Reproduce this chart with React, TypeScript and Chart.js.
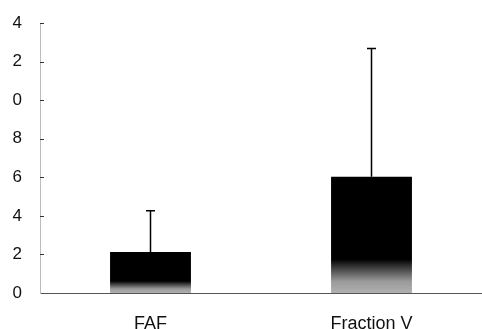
import React, { useEffect, useRef } from "react";
import { Chart, registerables } from "chart.js";

Chart.register(...registerables);

const categories = ["FAF", "Fraction V"];
const meanValues = [2.12, 6.03];
const errorTops = [4.26, 12.68];
const yTickLabels = ["0", "2", "4", "6", "8", "0", "2", "4"];

const FONT = "'Liberation Sans', Arial, sans-serif";

const errorBarPlugin = {
  id: "errorBars",
  afterDatasetsDraw(chart: any) {
    const { ctx, scales } = chart;
    const meta = chart.getDatasetMeta(0);
    ctx.save();
    ctx.strokeStyle = "#000";
    ctx.lineWidth = 1.5;
    meta.data.forEach((bar: any, i: number) => {
      const yTop = scales.y.getPixelForValue(errorTops[i]);
      ctx.beginPath();
      ctx.moveTo(bar.x, bar.y);
      ctx.lineTo(bar.x, yTop);
      ctx.moveTo(bar.x - 4.5, yTop);
      ctx.lineTo(bar.x + 4.5, yTop);
      ctx.stroke();
    });
    ctx.restore();
  },
};

const yTickPlugin = {
  id: "yTicksRight",
  afterDraw(chart: any) {
    const { ctx, scales } = chart;
    const y = scales.y;
    const x0 = chart.chartArea.left;
    ctx.save();
    ctx.strokeStyle = "#333";
    ctx.lineWidth = 1;
    y.ticks.forEach((t: any) => {
      if (t.value === 0) return;
      const py = Math.round(y.getPixelForValue(t.value)) + 0.5;
      ctx.beginPath();
      ctx.moveTo(x0, py);
      ctx.lineTo(x0 + 4, py);
      ctx.stroke();
    });
    ctx.restore();
  },
};

export default function App() {
  const ref = useRef<HTMLCanvasElement | null>(null);
  useEffect(() => {
    if (!ref.current) return;
    const chart = new Chart(ref.current, {
      type: "bar",
      data: {
        labels: categories,
        datasets: [
          {
            data: meanValues,
            backgroundColor: (c: any) => {
              const ch = c.chart;
              const ys = ch.scales && ch.scales.y;
              if (!ys || c.parsed === undefined) return "#000";
              const yb = ys.getPixelForValue(0);
              const yt = ys.getPixelForValue(c.parsed.y);
              if (!isFinite(yb) || !isFinite(yt) || yb === yt) return "#000";
              const g = ch.ctx.createLinearGradient(0, yb, 0, yt);
              g.addColorStop(0, "#b0b0b0");
              g.addColorStop(0.1, "#9a9a9a");
              g.addColorStop(0.23, "#333");
              g.addColorStop(0.29, "#000");
              g.addColorStop(1, "#000");
              return g;
            },
            borderWidth: 0,
            barPercentage: 0.366,
            categoryPercentage: 1,
          },
        ],
      },
      options: {
        responsive: false,
        animation: false,
        layout: { padding: { top: 23, right: 0, bottom: 0, left: 0 } },
        plugins: {
          legend: { display: false },
          tooltip: { enabled: false },
        },
        scales: {
          x: {
            grid: { display: false },
            border: { display: true, color: "#555", width: 1 },
            ticks: {
              color: "#111",
              font: { family: FONT, size: 18 },
              padding: 12,
            },
            afterFit: (s: any) => {
              s.height = 36;
            },
          },
          y: {
            min: 0,
            max: 14,
            grid: { display: false },
            border: { display: true, color: "#bbb", width: 1, dash: [2, 3] },
            ticks: {
              stepSize: 2,
              color: "#111",
              font: { family: FONT, size: 17 },
              padding: 10,
              callback: (_v: any, i: number) => yTickLabels[i],
            },
            afterFit: (s: any) => {
              s.width = 40;
            },
          },
        },
      },
      plugins: [errorBarPlugin, yTickPlugin],
    });
    return () => chart.destroy();
  }, []);
  return (
    <div style={{ position: "absolute", left: 0, top: 0, width: 482, height: 329, background: "#fff" }}>
      <canvas ref={ref} width={482} height={329} />
    </div>
  );
}
